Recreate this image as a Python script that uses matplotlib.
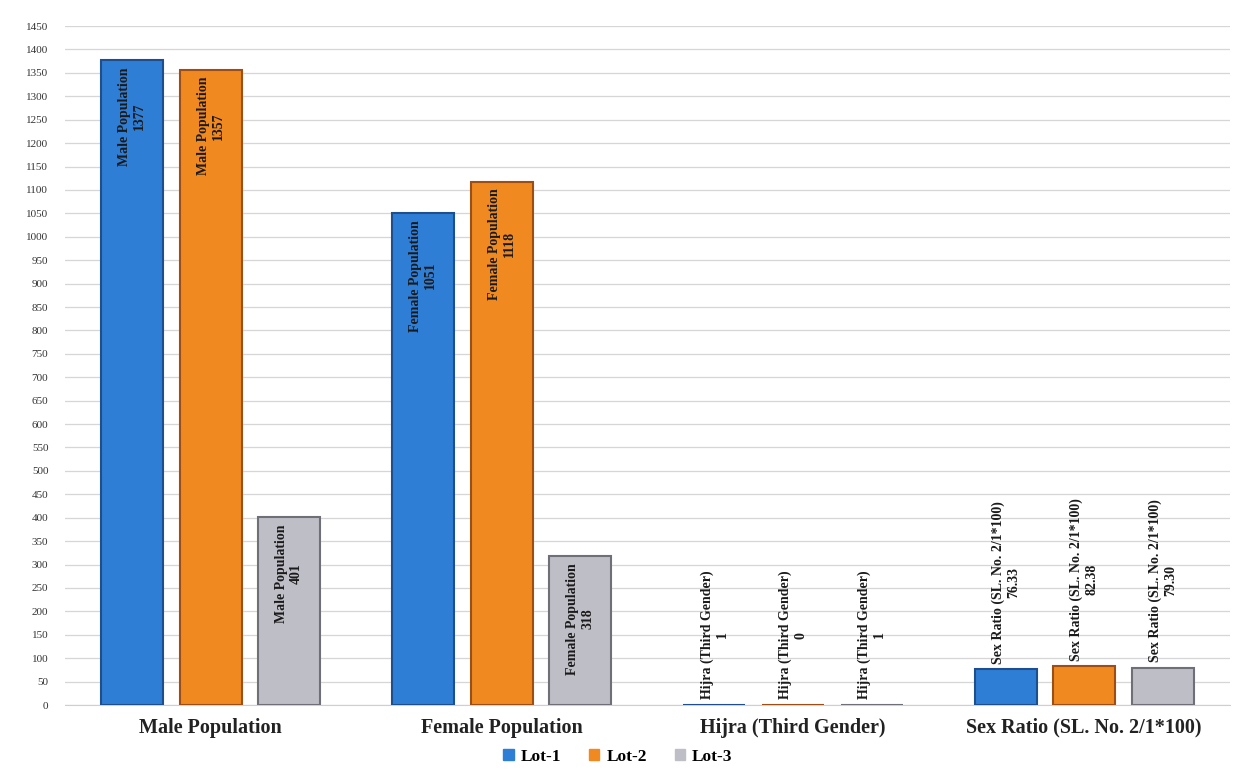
import numpy as np
import matplotlib.pyplot as plt
from matplotlib.patches import Patch

# Survey totals per lot
categories = ["Male Population", "Female Population",
              "Hijra (Third Gender)", "Sex Ratio (SL. No. 2/1*100)"]
lots = ["Lot-1", "Lot-2", "Lot-3"]
lot1 = [1377, 1051, 1, 76.33]
lot2 = [1357, 1118, 0, 82.38]
lot3 = [401, 318, 1, 79.30]
decimals = [0, 0, 0, 2]
yticks = list(range(0, 1451, 50))

colors = ["#2F7ED5", "#F0891F", "#BEBEC6"]
edges = ["#1D4F8E", "#9C4E14", "#6F6F78"]

plt.rcParams['font.family'] = ['Liberation Serif', 'DejaVu Serif']

fig = plt.figure(figsize=(12.36, 7.71), dpi=100)
ax = fig.add_axes([0.0526, 0.0856, 0.9424, 0.8806])

x = np.arange(len(categories))
width = 0.213
step = 0.27

for i, (name, vals) in enumerate(zip(lots, [lot1, lot2, lot3])):
    pos = x + (i - 1) * step
    bars = ax.bar(pos, vals, width, color=colors[i], edgecolor=edges[i],
                  linewidth=1.5, label=name, zorder=3)
    for j, (b, v) in enumerate(zip(bars, vals)):
        txt = f"{categories[j]}\n{v:.{decimals[j]}f}"
        cx = b.get_x() + b.get_width() / 2
        if v > 200:
            # tall bars: label sits inside, hanging from the top
            ax.annotate(txt, (cx, v), xytext=(0, -5), textcoords="offset points",
                        rotation=90, ha="center", va="top", multialignment="center",
                        fontsize=10, fontweight="bold", color="#1a1a1a", zorder=4)
        else:
            ax.annotate(txt, (cx, v), xytext=(0, 4), textcoords="offset points",
                        rotation=90, ha="center", va="bottom", multialignment="center",
                        fontsize=10, fontweight="bold", color="#1a1a1a", zorder=4)

ax.set_xlim(-0.5, 3.5)
ax.set_ylim(0, 1450)
ax.set_yticks(yticks)
ax.set_yticklabels([str(t) for t in yticks], fontsize=8, color="#333333")
ax.set_xticks(x)
ax.set_xticklabels(categories, fontsize=14.5, fontweight="bold", color="#222222")
ax.tick_params(axis="y", length=0, pad=12)
ax.tick_params(axis="x", length=0, pad=9)
ax.grid(axis="y", color="#d6d6d6", linewidth=0.9, zorder=0)
for s in ["top", "right", "left"]:
    ax.spines[s].set_visible(False)
ax.spines["bottom"].set_color("#cfcfcf")

handles = [Patch(facecolor=c, edgecolor=c) for c in colors]
fig.legend(handles, lots, loc="lower center", bbox_to_anchor=(0.5, -0.012), ncol=3,
           frameon=False, handlelength=0.6, handleheight=0.6, handletextpad=0.4,
           columnspacing=1.6, prop={"weight": "bold", "size": 12.5})

fig.savefig("out.png", dpi=100)
